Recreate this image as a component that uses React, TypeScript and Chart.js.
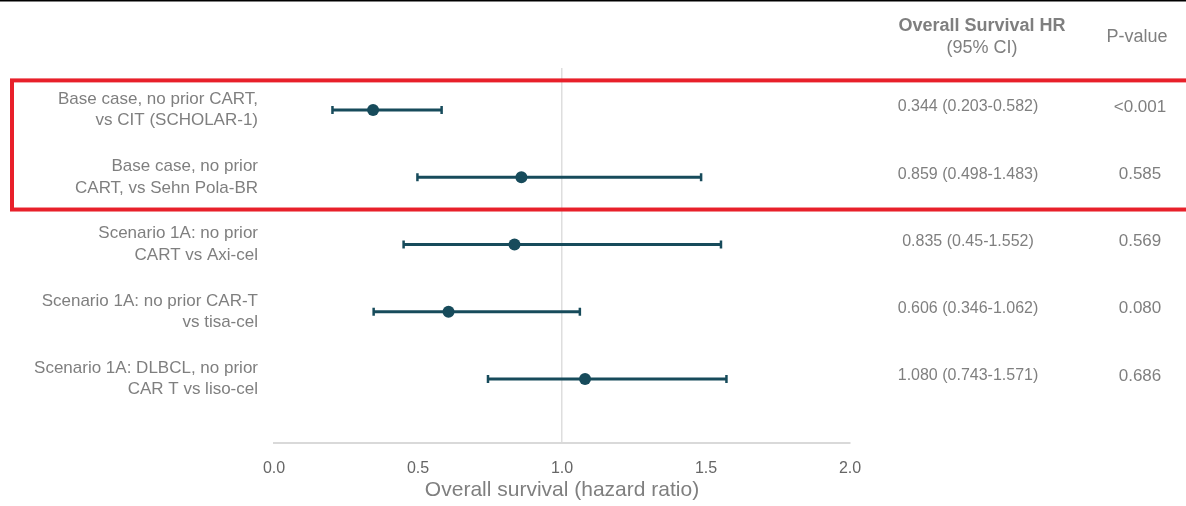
import React, { useEffect, useRef } from 'react';
import { Chart, registerables } from 'chart.js';

Chart.register(...registerables);

const rowLabels: string[][] = [
  ['Base case, no prior CART,', 'vs CIT (SCHOLAR-1)'],
  ['Base case, no prior', 'CART, vs Sehn Pola-BR'],
  ['Scenario 1A: no prior', 'CART vs Axi-cel'],
  ['Scenario 1A: no prior CAR-T', 'vs tisa-cel'],
  ['Scenario 1A: DLBCL, no prior', 'CAR T vs liso-cel'],
];
const rowPositions = [1, 2, 3, 4, 5];
const hazardRatios = [0.344, 0.859, 0.835, 0.606, 1.08];
const ciLower = [0.203, 0.498, 0.45, 0.346, 0.743];
const ciUpper = [0.582, 1.483, 1.552, 1.062, 1.571];
const hrTexts = [
  '0.344 (0.203-0.582)',
  '0.859 (0.498-1.483)',
  '0.835 (0.45-1.552)',
  '0.606 (0.346-1.062)',
  '1.080 (0.743-1.571)',
];
const pValues = ['<0.001', '0.585', '0.569', '0.080', '0.686'];
const xTickValues = [0, 0.5, 1, 1.5, 2];

const TEAL = '#174b5b';
const GRAY = '#7f7f7f';
const FONT = "'Liberation Sans', Arial, sans-serif";

const extrasPlugin = {
  id: 'forestExtras',
  afterDraw(chart: any) {
    const ctx = chart.ctx;
    const y = chart.scales.y;
    ctx.save();
    // top black rule
    ctx.strokeStyle = '#000';
    ctx.lineWidth = 1.5;
    ctx.beginPath();
    ctx.moveTo(0, 0.75);
    ctx.lineTo(chart.width, 0.75);
    ctx.stroke();

    // headers
    ctx.fillStyle = GRAY;
    ctx.textAlign = 'center';
    ctx.textBaseline = 'middle';
    ctx.font = `bold 18px ${FONT}`;
    ctx.fillText('Overall Survival HR', 982, 26);
    ctx.font = `18px ${FONT}`;
    ctx.fillText('(95% CI)', 982, 48);
    ctx.fillText('P-value', 1137, 37);

    // columns
    rowPositions.forEach((r, i) => {
      const py = y.getPixelForValue(r) - 3;
      ctx.font = `16px ${FONT}`;
      ctx.fillText(hrTexts[i], 968, py);
      ctx.font = `17px ${FONT}`;
      ctx.fillText(pValues[i], 1140, py);
    });

    // red highlight box
    const top = y.getPixelForValue(0.56);
    const bottom = y.getPixelForValue(2.48);
    ctx.strokeStyle = '#e8202a';
    ctx.lineWidth = 4;
    ctx.strokeRect(12, top, chart.width + 20, bottom - top);
    ctx.restore();
  },
};

export default function App() {
  const ref = useRef<HTMLCanvasElement | null>(null);
  useEffect(() => {
    if (!ref.current) return;
    const dots = {
      type: 'scatter',
      data: rowPositions.map((r, i) => ({ x: hazardRatios[i], y: r })),
      backgroundColor: TEAL,
      borderColor: TEAL,
      pointRadius: 6,
      pointBorderWidth: 0,
      showLine: false,
    };
    const cis = rowPositions.map((r, i) => ({
      type: 'scatter',
      data: [
        { x: ciLower[i], y: r },
        { x: ciUpper[i], y: r },
      ],
      showLine: true,
      borderColor: TEAL,
      borderWidth: 3,
      pointStyle: 'line',
      pointRotation: 90,
      pointRadius: 4,
      pointBorderWidth: 2.5,
      pointBorderColor: TEAL,
      pointBackgroundColor: TEAL,
    }));
    const chart = new Chart(ref.current, {
      type: 'scatter',
      data: { datasets: [dots, ...cis] as any },
      options: {
        animation: false,
        responsive: false,
        layout: { padding: { top: 68, right: 336, left: 0, bottom: 0 } },
        plugins: { legend: { display: false }, tooltip: { enabled: false } },
        scales: {
          x: {
            type: 'linear',
            min: 0,
            max: 2,
            afterBuildTicks: (s: any) => {
              s.ticks = xTickValues.map((v) => ({ value: v }));
            },
            afterFit: (s: any) => {
              s.height = 63;
            },
            ticks: {
              callback: (v: any) => Number(v).toFixed(1),
              font: { size: 16, family: FONT },
              color: '#666666',
              padding: 16,
              autoSkip: false,
              maxRotation: 0,
            },
            grid: {
              drawTicks: false,
              lineWidth: 1.5,
              color: (c: any) => (c.tick && c.tick.value === 1 ? '#dedede' : 'rgba(0,0,0,0)'),
            },
            border: { display: true, color: '#d9d9d9', width: 2 },
            title: {
              display: true,
              text: 'Overall survival (hazard ratio)',
              font: { size: 21, family: FONT },
              color: GRAY,
              padding: { top: 0, bottom: 3 },
            },
          },
          y: {
            type: 'linear',
            reverse: true,
            min: 0.3755,
            max: 5.952,
            afterBuildTicks: (s: any) => {
              s.ticks = rowPositions.map((v) => ({ value: v }));
            },
            afterFit: (s: any) => {
              s.width = 274;
            },
            ticks: {
              callback: (v: any) => rowLabels[Math.round(Number(v)) - 1] || '',
              font: { size: 17, family: FONT, lineHeight: 1.27 },
              color: GRAY,
              padding: 16,
              autoSkip: false,
            },
            grid: { display: false, drawTicks: false },
            border: { display: false },
          },
        },
      } as any,
      plugins: [extrasPlugin],
    });
    return () => chart.destroy();
  }, []);
  return (
    <div style={{ position: 'absolute', left: 0, top: 0, width: 1186, height: 506, background: '#fff' }}>
      <canvas ref={ref} width={1186} height={506} />
    </div>
  );
}
